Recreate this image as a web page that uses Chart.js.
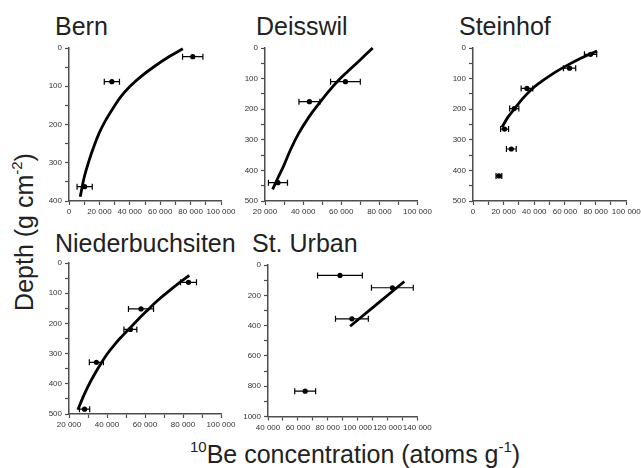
<!DOCTYPE html>
<html><head><meta charset="utf-8">
<script src="https://cdn.jsdelivr.net/npm/chart.js@4.4.1/dist/chart.umd.min.js"></script>
<style>
html,body{margin:0;padding:0;background:#fff;}
body{width:641px;height:468px;position:relative;overflow:hidden;font-family:"Liberation Sans",Arial,sans-serif;}
canvas{position:absolute;}
.t{position:absolute;font-size:25px;line-height:25px;color:#222;white-space:nowrap;}
.t sup{font-size:15px;line-height:0;vertical-align:baseline;position:relative;top:-11px;}
#ytitle{left:24px;top:232px;transform:translate(-50%,-50%) rotate(-90deg);}
</style></head><body>
<div class="t" style="left:55px;top:14px">Bern</div>
<div class="t" style="left:256px;top:14px">Deisswil</div>
<div class="t" style="left:459px;top:14px">Steinhof</div>
<div class="t" style="left:55px;top:231px">Niederbuchsiten</div>
<div class="t" style="left:252px;top:231px">St. Urban</div>
<div class="t" id="ytitle">Depth (g cm<sup>-2</sup>)</div>
<div class="t" style="left:190px;top:442px"><sup>10</sup>Be concentration (atoms g<sup>-1</sup>)</div>

<canvas id="c1"></canvas><canvas id="c2"></canvas><canvas id="c3"></canvas><canvas id="c4"></canvas><canvas id="c5"></canvas>
<script>
// ---- data (x = 10Be concentration, atoms/g ; y = depth, g/cm2) ----
const bernX   = [81400, 28200, 10300];
const bernY   = [22.7, 88, 362.5];
const bernErr = [6700, 5000, 5000];
const bernFitX = [7400, 10000, 13300, 16300, 19900, 24000, 28600, 34000, 40200, 47500, 55900, 65700, 74900];
const bernFitY = [389, 338, 293, 258, 222, 190, 160, 128, 100, 74, 49, 23, 2];

const deissX   = [62200, 43300, 26800];
const deissY   = [110, 175.5, 440];
const deissErr = [7800, 5500, 5000];
const deissFitX = [24000, 26800, 29800, 33500, 37600, 43000, 49000, 53500, 58200, 63500, 69200, 76500];
const deissFitY = [462, 424, 385, 331, 280, 226, 176, 141, 108, 76, 43, 0];

const steinX   = [76700, 63000, 35200, 26900, 20600, 25000, 16900];
const steinY   = [20.6, 66, 132, 198, 265, 330, 418];
const steinErr = [4000, 4000, 3800, 3000, 2600, 3200, 1900];
const steinFitX = [18900, 22800, 27600, 32800, 38500, 43200, 48300, 54000, 60200, 70000, 80900];
const steinFitY = [259, 226, 195, 163, 134, 115, 97, 78, 60, 34, 10];

const niedX   = [82900, 57900, 52300, 34400, 28200];
const niedY   = [64, 152, 220, 329, 484];
const niedErr = [4200, 6600, 3400, 3700, 2700];
const niedFitX = [24700, 27400, 30300, 33300, 36500, 40000, 44000, 48000, 52300, 56500, 60700, 66500, 72400, 78000, 83300];
const niedFitY = [486, 444, 405, 370, 336, 302, 270, 242, 214, 186, 160, 125, 94, 66, 41];

const urbanX   = [88200, 123300, 96200, 64900];
const urbanY   = [69, 150, 355, 833];
const urbanErr = [15000, 14000, 11000, 7000];
const urbanFitX = [95000, 131300];
const urbanFitY = [404, 109];

// ---- helpers ----
Chart.defaults.font.family = '"Liberation Sans", Arial, sans-serif';
Chart.defaults.font.size = 8;
Chart.defaults.color = '#333';

const fmt = v => String(v).replace(/\B(?=(\d{3})+(?!\d))/g, ' ');

const errorBars = {
  id: 'errorBars',
  beforeDatasetsDraw(chart) {
    const ctx = chart.ctx, xs = chart.scales.x, ys = chart.scales.y;
    chart.data.datasets.forEach(ds => {
      if (!ds.errX) return;
      ctx.save();
      ctx.strokeStyle = '#000';
      ctx.lineWidth = 1.2;
      ds.data.forEach((p, i) => {
        const y = ys.getPixelForValue(p.y);
        const x1 = xs.getPixelForValue(p.x - ds.errX[i]);
        const x2 = xs.getPixelForValue(p.x + ds.errX[i]);
        ctx.beginPath();
        ctx.moveTo(x1, y); ctx.lineTo(x2, y);
        ctx.moveTo(x1, y - 3); ctx.lineTo(x1, y + 3);
        ctx.moveTo(x2, y - 3); ctx.lineTo(x2, y + 3);
        ctx.stroke();
      });
      ctx.restore();
    });
  }
};

function panel(id, box, xr, yr, X, Y, E, FX, FY) {
  const cv = document.getElementById(id);
  const tw = box.r - box.l, th = box.b - box.t;
  cv.width = tw + 70; cv.height = th + 40;
  cv.style.width = cv.width + 'px'; cv.style.height = cv.height + 'px';
  const pts = X.map((x, i) => ({x, y: Y[i]}));
  const fit = FX.map((x, i) => ({x, y: FY[i]}));
  const axisCol = '#4d4d4d';
  const chart = new Chart(cv, {
    type: 'scatter',
    data: {datasets: [
      {data: pts, errX: E, pointRadius: 2.6, pointHoverRadius: 2.6, backgroundColor: '#000', borderColor: '#000', borderWidth: 0, showLine: false, clip: false},
      {data: fit, showLine: true, pointRadius: 0, borderColor: '#000', borderWidth: 2.8, tension: 0.4, borderJoinStyle: 'round', borderCapStyle: 'butt', fill: false, clip: false}
    ]},
    options: {
      responsive: false, animation: false, devicePixelRatio: 1,
      layout: {padding: {left: 0, top: 8, right: 20, bottom: 0}},
      plugins: {legend: {display: false}, tooltip: {enabled: false}},
      scales: {
        x: {type: 'linear', min: xr[0], max: xr[1],
            border: {display: true, color: axisCol, width: 1.5},
            grid: {drawOnChartArea: false, drawTicks: true, tickLength: 4, tickColor: axisCol, tickWidth: 1.2},
            ticks: {stepSize: xr[2], autoSkip: false, maxRotation: 0, padding: 2,
                    callback: v => (v % xr[3] === 0 ? fmt(v) : '')},
            afterFit: s => { s.height = 20; }},
        y: {type: 'linear', min: yr[0], max: yr[1], reverse: true,
            border: {display: true, color: axisCol, width: 1.5},
            grid: {drawOnChartArea: false, drawTicks: true, tickLength: 4, tickColor: axisCol, tickWidth: 1.2},
            ticks: {stepSize: yr[2], autoSkip: false, padding: 3,
                    callback: v => (v % yr[3] === 0 ? String(v) : '')},
            afterFit: s => { s.width = 36; }}
      }
    },
    plugins: [errorBars]
  });
  for (let k = 0; k < 3; k++) {
    const ca = chart.chartArea;
    const dw = (ca.right - ca.left) - tw, dh = (ca.bottom - ca.top) - th;
    if (Math.abs(dw) < 0.01 && Math.abs(dh) < 0.01) break;
    chart.options.layout.padding.right += dw;
    chart.options.layout.padding.bottom += dh;
    chart.update();
  }
  const ca = chart.chartArea;
  cv.style.left = (box.l - ca.left) + 'px';
  cv.style.top = (box.t - ca.top) + 'px';
  return chart;
}

panel('c1', {l: 68.5, r: 220.5, t: 48, b: 201}, [0, 100000, 10000, 20000], [0, 400, 50, 100], bernX, bernY, bernErr, bernFitX, bernFitY);
panel('c2', {l: 264.5, r: 417, t: 48, b: 201}, [20000, 100000, 10000, 20000], [0, 500, 50, 100], deissX, deissY, deissErr, deissFitX, deissFitY);
panel('c3', {l: 472.7, r: 626, t: 48, b: 201}, [0, 100000, 10000, 20000], [0, 500, 50, 100], steinX, steinY, steinErr, steinFitX, steinFitY);
panel('c4', {l: 68.7, r: 220.7, t: 263.3, b: 414.3}, [20000, 100000, 10000, 20000], [0, 500, 50, 100], niedX, niedY, niedErr, niedFitX, niedFitY);
panel('c5', {l: 267.7, r: 417, t: 264.5, b: 416}, [40000, 140000, 10000, 20000], [0, 1000, 100, 200], urbanX, urbanY, urbanErr, urbanFitX, urbanFitY);
</script>
</body></html>
